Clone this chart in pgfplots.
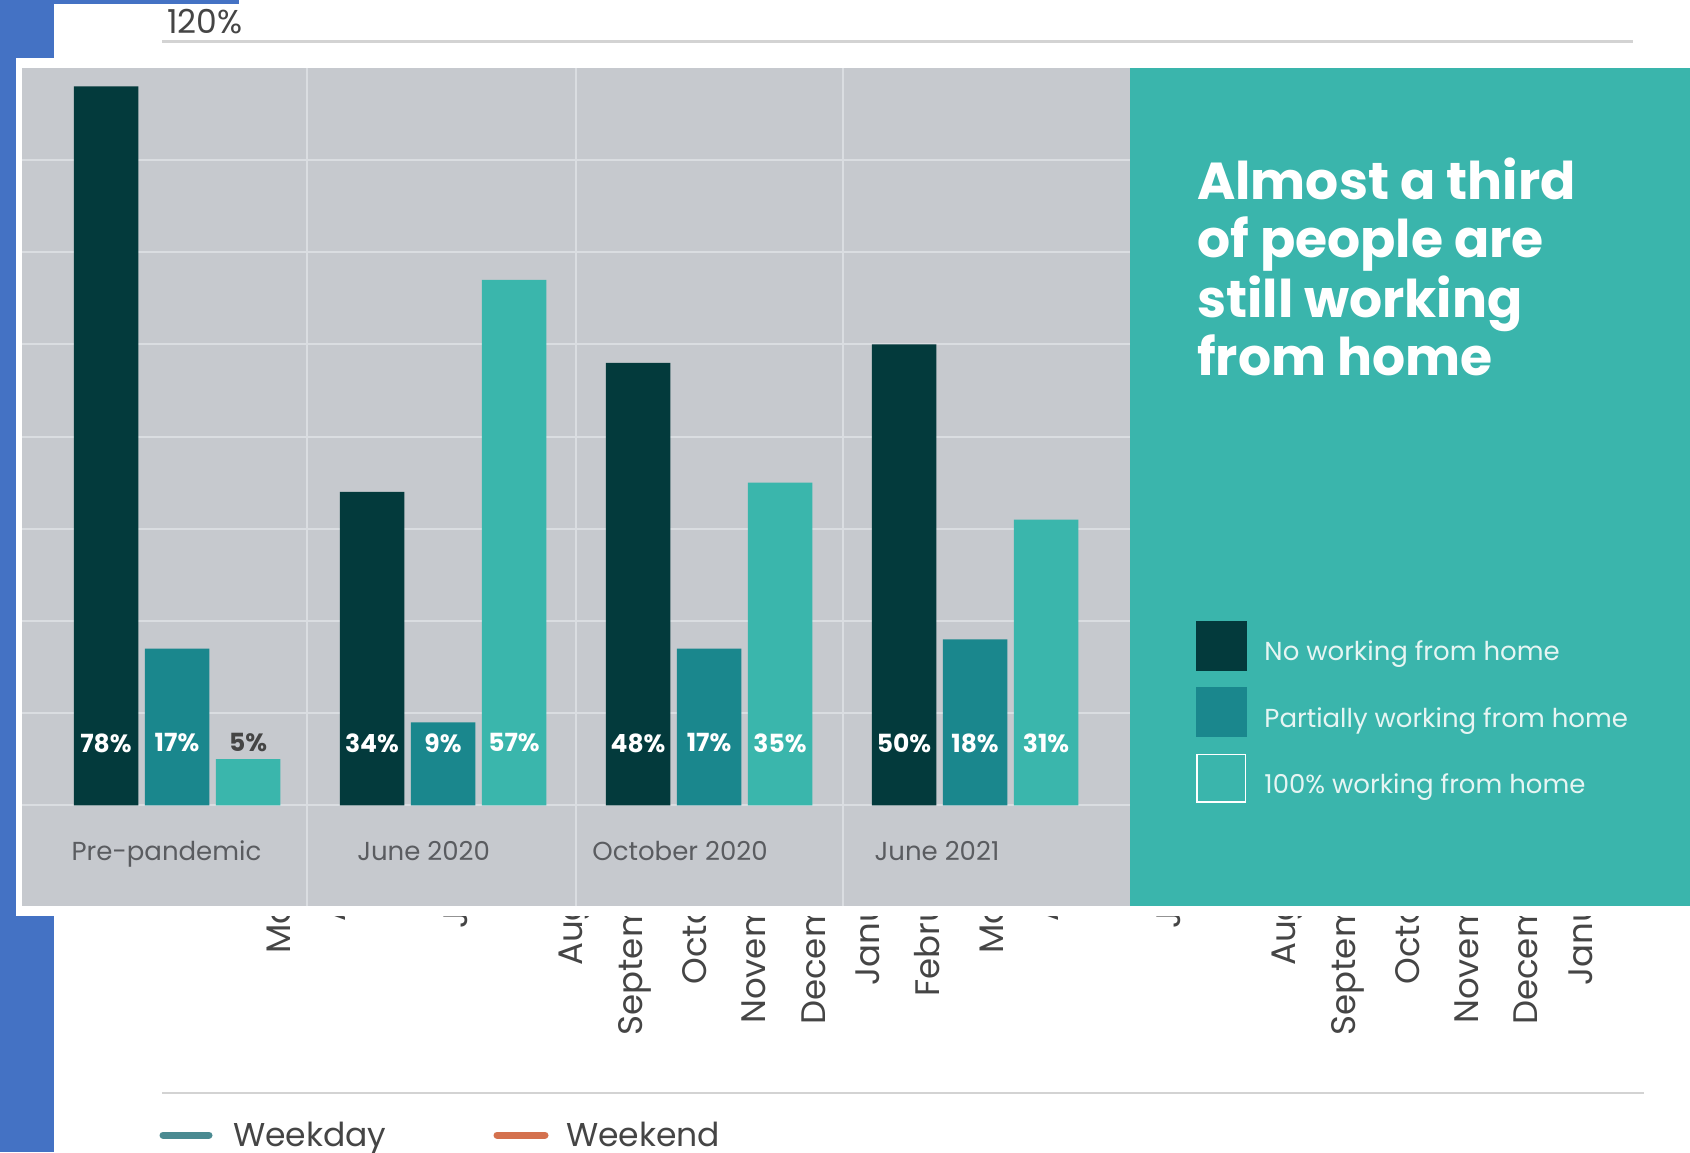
\documentclass[border=0pt]{standalone}
\usepackage{fontspec}
\setmainfont{Poppins}
\usepackage{pgfplots}
\pgfplotsset{compat=1.18}
\definecolor{cBlue}{HTML}{4472C4}
\definecolor{cPanel}{HTML}{C6C9CE}
\definecolor{cGrid}{HTML}{DADDE1}
\definecolor{cTeal}{HTML}{3AB5AC}
\definecolor{cDark}{HTML}{033A3C}
\definecolor{cMid}{HTML}{1A878D}
\definecolor{cLight}{HTML}{3AB6AC}
\definecolor{cText}{HTML}{454545}
\definecolor{cCat}{HTML}{5A5C60}
\definecolor{cLeg}{HTML}{E6F5F3}
\definecolor{cWeekday}{HTML}{4A8A91}
\definecolor{cWeekend}{HTML}{D4714E}
\definecolor{cRule}{HTML}{D3D3D3}
\tikzset{vlab/.style={text=white, font=\bfseries\fontsize{25}{28}\selectfont, inner sep=0pt},
  clab/.style={text=cCat, font=\fontsize{26}{30}\selectfont, inner sep=0pt, anchor=base}}
\begin{document}
\begin{tikzpicture}[x=1pt,y=-1pt]
\useasboundingbox (0,0) rectangle (1690,1152);
% background composite
\fill[cBlue] (0,0) rectangle (1690,1152);
\fill[white] (54,4) rectangle (1690,1152);
\fill[white] (239,0) rectangle (1690,4);
% underlying chart: top label and rule
\node[anchor=base west, inner sep=0pt, text=cText, font=\fontsize{33}{36}\selectfont] at (167,33) {120\%};
\draw[cRule, line width=2.5pt] (162,41.5) -- (1633,41.5);
% underlying chart: month tick labels (partly hidden)
\foreach \n [count=\i from 0] in {March,April,May,June,July,August,September,October,November,December,January,February,March,April,May,June,July,August,September,October,November,December,January}{
  \node[rotate=90, anchor=east, inner sep=0pt, text=cText, font=\fontsize{34}{38}\selectfont] at ({278+59.4*\i},846) {\n};
}
\draw[cRule, line width=2.5pt] (162,1093) -- (1644,1093);
\draw[cWeekday, line width=7pt, line cap=round] (163,1135) -- (209,1135);
\node[anchor=base west, inner sep=0pt, text=cText, font=\fontsize{33}{38}\selectfont] at (233,1146.5) {Weekday};
\draw[cWeekend, line width=7pt, line cap=round] (497,1135) -- (545,1135);
\node[anchor=base west, inner sep=0pt, text=cText, font=\fontsize{33}{38}\selectfont] at (566,1146.5) {Weekend};
% screenshot frame
\fill[white] (16,58) rectangle (1690,916);
\fill[cTeal] (1130,68) rectangle (1690,906);
% title
\foreach \t/\yy in {Almost a third/199, of people are/257.7, still working/317, from home/375}{
  \node[anchor=base west, inner sep=0pt, text=white, font=\bfseries\fontsize{52}{58}\selectfont] at (1197,\yy) {\t};
}
\begin{axis}[
  at={(22pt,-906pt)}, anchor=south west,
  scale only axis, width=1108pt, height=838pt,
  xmin=-0.5827, xmax=3.5827, ymin=-10.93, ymax=80,
  axis background/.style={fill=cPanel},
  axis line style={draw=none},
  xtick={0.489,1.5,2.504}, ytick={0,10,...,70},
  xticklabels={}, yticklabels={},
  major tick length=0pt,
  grid=major,
  major grid style={color=cGrid, line width=2pt},
  legend style={at={(1.0596,0.3401)}, anchor=north west, draw=none, fill=none,
    inner sep=0pt, outer sep=0pt, row sep=17pt, column sep=18pt,
    font=\fontsize{26}{30}\selectfont, text=cLeg, nodes={inner sep=0pt}},
  legend cell align=left,
]
\addplot[ybar, bar width=64.5pt, bar shift=-71pt, fill=cDark, draw=none, forget plot]
  coordinates {(0,78) (1,34) (2,48) (3,50)};
\addplot[ybar, bar width=64.5pt, bar shift=0pt, fill=cMid, draw=none, forget plot]
  coordinates {(0,17) (1,9) (2,17) (3,18)};
\addplot[ybar, bar width=64.5pt, bar shift=71pt, fill=cLight, draw=none, forget plot]
  coordinates {(0,5) (1,57) (2,35) (3,31)};
\addlegendimage{legend image code/.code={\fill[cDark] (0pt,-18.5pt) rectangle (50pt,30.5pt);}}
\addlegendentry{No working from home}
\addlegendimage{legend image code/.code={\fill[cMid] (0pt,-18.5pt) rectangle (50pt,30.5pt);}}
\addlegendentry{Partially working from home}
\addlegendimage{legend image code/.code={\draw[white, line width=1.5pt] (0.75pt,-17.75pt) rectangle (49.25pt,29.75pt);}}
\addlegendentry{100\% working from home}
% value labels
\node[vlab] at (axis cs:-0.2669,6.76) {78\%};
\node[vlab] at (axis cs:0,6.76) {17\%};
\node[vlab, text=cText] at (axis cs:0.2669,6.76) {5\%};
\node[vlab] at (axis cs:0.7331,6.76) {34\%};
\node[vlab] at (axis cs:1,6.76) {9\%};
\node[vlab] at (axis cs:1.2669,6.76) {57\%};
\node[vlab] at (axis cs:1.7331,6.76) {48\%};
\node[vlab] at (axis cs:2,6.76) {17\%};
\node[vlab] at (axis cs:2.2669,6.76) {35\%};
\node[vlab] at (axis cs:2.7331,6.76) {50\%};
\node[vlab] at (axis cs:3,6.76) {18\%};
\node[vlab] at (axis cs:3.2669,6.76) {31\%};
% category labels
\node[clab] at (axis cs:-0.0395,-5.97) {Pre-pandemic};
\node[clab] at (axis cs:0.927,-5.97) {June 2020};
\node[clab] at (axis cs:1.891,-5.97) {October 2020};
\node[clab] at (axis cs:2.857,-5.97) {June 2021};
\end{axis}
\end{tikzpicture}
\end{document}
